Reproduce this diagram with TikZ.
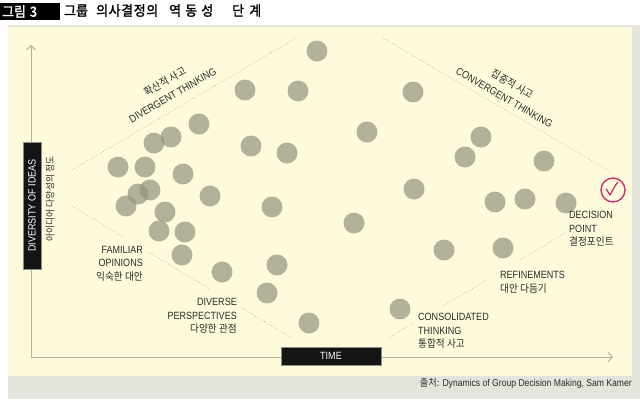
\documentclass[tikz,border=0pt]{standalone}
\usepackage{fontspec}
\setmainfont{Liberation Sans}[FakeStretch=0.86]
\newfontfamily\kr{Noto Sans CJK KR}[FakeStretch=0.92]
\newfontfamily\krt{Noto Sans CJK KR}[FakeStretch=0.92,FakeBold=1.6]
\usetikzlibrary{arrows.meta}
\definecolor{cream}{HTML}{FEFBDC}
\definecolor{framec}{HTML}{E4E4DC}
\definecolor{dotc}{HTML}{94937F}
\definecolor{axisc}{HTML}{B5B19C}
\definecolor{dline}{HTML}{9C9C8E}
\definecolor{mag}{HTML}{D2236B}
\definecolor{ink}{HTML}{2A2A2A}
\begin{document}
\begin{tikzpicture}[x=1pt,y=-1pt,
  dot/.style={circle,fill=dotc,fill opacity=0.7,minimum size=21pt,inner sep=0pt},
  lbl/.style={font=\fontsize{10.5}{13.5}\selectfont,inner sep=0pt,text=ink},
  rlbl/.style={font=\fontsize{10.5}{15.5}\selectfont,inner sep=0pt,text=ink,align=center},
  blackbox/.style={fill=black!92,text=white,draw=black!45,line width=0.5pt,inner sep=0pt,font=\fontsize{10.5}{12}\selectfont},
  guide/.style={draw=dline,dotted,line width=0.6pt},
  axisline/.style={draw=axisc,line width=1pt}]
\useasboundingbox (0,0) rectangle (640,399);
% background
\fill[white] (0,0) rectangle (640,399);
\fill[framec] (8,25) rectangle (640,399);
\fill[cream] (8,27) rectangle (632,376);
% title
\node[fill=black,text=white,anchor=north west,minimum height=15pt,text width=56pt,inner sep=2pt,align=left,font=\krt\fontsize{14}{14}\selectfont] (fig) at (0,3) {그림\hspace{4pt}3};
\node[anchor=west,inner sep=0pt,font=\krt\fontsize{14}{14}\selectfont] (title) at (64,10.5) {\makebox[32pt][l]{그룹}\makebox[73pt][l]{\makebox[62pt][s]{의\hfill 사\hfill 결\hfill 정\hfill 의}}\makebox[63pt][l]{\makebox[44pt][s]{역\hfill 동\hfill 성}}\makebox[29pt][s]{단\hfill 계}};
% axes
\coordinate (ytop) at (31,45);
\coordinate (orig) at (31,357);
\coordinate (xend) at (613,357);
\draw[axisline,{Straight Barb[length=4pt,width=9pt]}-{Straight Barb[length=4pt,width=9pt]}] (ytop) -- (orig) -- (xend);
% guides
\coordinate (d1a) at (72,170); \coordinate (d1b) at (296,38);
\coordinate (c1a) at (383,38); \coordinate (c1b) at (611,172);
\coordinate (l1) at (72,206); \coordinate (l2) at (123,237);
\coordinate (l3) at (148,252); \coordinate (l4) at (210,289);
\coordinate (l5) at (242,308); \coordinate (l6) at (290,337);
\coordinate (r1) at (390,337); \coordinate (r2) at (413,323);
\coordinate (r3) at (443,306); \coordinate (r4) at (490,278);
\coordinate (r5) at (520,260); \coordinate (r6) at (567,232);
\draw[guide] (d1a) -- (d1b);
\draw[guide] (c1a) -- (c1b);
\draw[guide] (l1) -- (l2);
\draw[guide] (l3) -- (l4);
\draw[guide] (l5) -- (l6);
\draw[guide] (r1) -- (r2);
\draw[guide] (r3) -- (r4);
\draw[guide] (r5) -- (r6);
% circles
\node[dot] (p1) at (317,51) {};
\node[dot] (p2) at (245,90) {};
\node[dot] (p3) at (298,91) {};
\node[dot] (p4) at (413,92) {};
\node[dot] (p5) at (199,124) {};
\node[dot] (p6) at (367,132) {};
\node[dot] (p7) at (171,137) {};
\node[dot] (p8) at (154,143) {};
\node[dot] (p9) at (481,137) {};
\node[dot] (p10) at (251,146) {};
\node[dot] (p11) at (287,153) {};
\node[dot] (p12) at (465,157) {};
\node[dot] (p13) at (544,161) {};
\node[dot] (p14) at (118,167) {};
\node[dot] (p15) at (145,167) {};
\node[dot] (p16) at (183,174) {};
\node[dot] (p17) at (150,190) {};
\node[dot] (p18) at (138,194) {};
\node[dot] (p19) at (414,189) {};
\node[dot] (p20) at (210,196) {};
\node[dot] (p21) at (495,202) {};
\node[dot] (p22) at (525,199) {};
\node[dot] (p23) at (566,203) {};
\node[dot] (p24) at (126,206) {};
\node[dot] (p25) at (272,207) {};
\node[dot] (p26) at (165,212) {};
\node[dot] (p27) at (354,223) {};
\node[dot] (p28) at (159,231) {};
\node[dot] (p29) at (185,232) {};
\node[dot] (p30) at (444,250) {};
\node[dot] (p31) at (503,248) {};
\node[dot] (p32) at (182,255) {};
\node[dot] (p33) at (222,272) {};
\node[dot] (p34) at (277,265) {};
\node[dot] (p35) at (267,293) {};
\node[dot] (p36) at (400,309) {};
\node[dot] (p37) at (309,323) {};
% axis labels
\node[blackbox,rotate=90,minimum width=127pt,minimum height=18pt] (ylab) at (32,205.5) {DIVERSITY OF IDEAS};
\node[rotate=90,inner sep=0pt,text=ink,font=\kr\fontsize{9.5}{11}\selectfont] (ykr) at (50,199) {아이디어 다양성의 정도};
\node[blackbox,minimum width=100pt,minimum height=18pt] (xlab) at (331,356) {TIME};
% rotated labels
\node[rlbl,rotate=30] (div) at (168.5,88) {{\kr 확산적 사고}\\DIVERGENT THINKING};
\node[rlbl,rotate=-30] (conv) at (508.5,90.5) {{\kr 집중적 사고}\\CONVERGENT THINKING};
% phase labels
\node[lbl,anchor=north east,align=right] (fam) at (143,246) {FAMILIAR\\OPINIONS\\{\kr 익숙한 대안}};
\node[lbl,anchor=north east,align=right] (dvp) at (237,298) {DIVERSE\\PERSPECTIVES\\{\kr 다양한 관점}};
\node[lbl,anchor=north west,align=left] (cons) at (418,313) {CONSOLIDATED\\THINKING\\{\kr 통합적 사고}};
\node[lbl,anchor=north west,align=left] (ref) at (500,271) {REFINEMENTS\\{\kr 대안 다듬기}};
\node[lbl,anchor=north west,align=left] (dec) at (569,211) {DECISION\\POINT\\{\kr 결정포인트}};
% decision mark
\node[circle,draw=mag,line width=1.3pt,minimum size=24pt,inner sep=0pt] (mark) at (613,190) {};
\draw[mag,line width=1.2pt,line cap=round,line join=round] ([shift={(-7,-1)}]mark.center) -- ([shift={(-3,5)}]mark.center) .. controls ([shift={(0,0)}]mark.center) and ([shift={(2,-5)}]mark.center) .. ([shift={(5,-8)}]mark.center);
% source
\node[anchor=east,inner sep=0pt,text=ink,font=\fontsize{10}{12}\selectfont] (src) at (632,383) {{\kr 출처:} Dynamics of Group Decision Making, Sam Kamer};
\end{tikzpicture}
\end{document}
